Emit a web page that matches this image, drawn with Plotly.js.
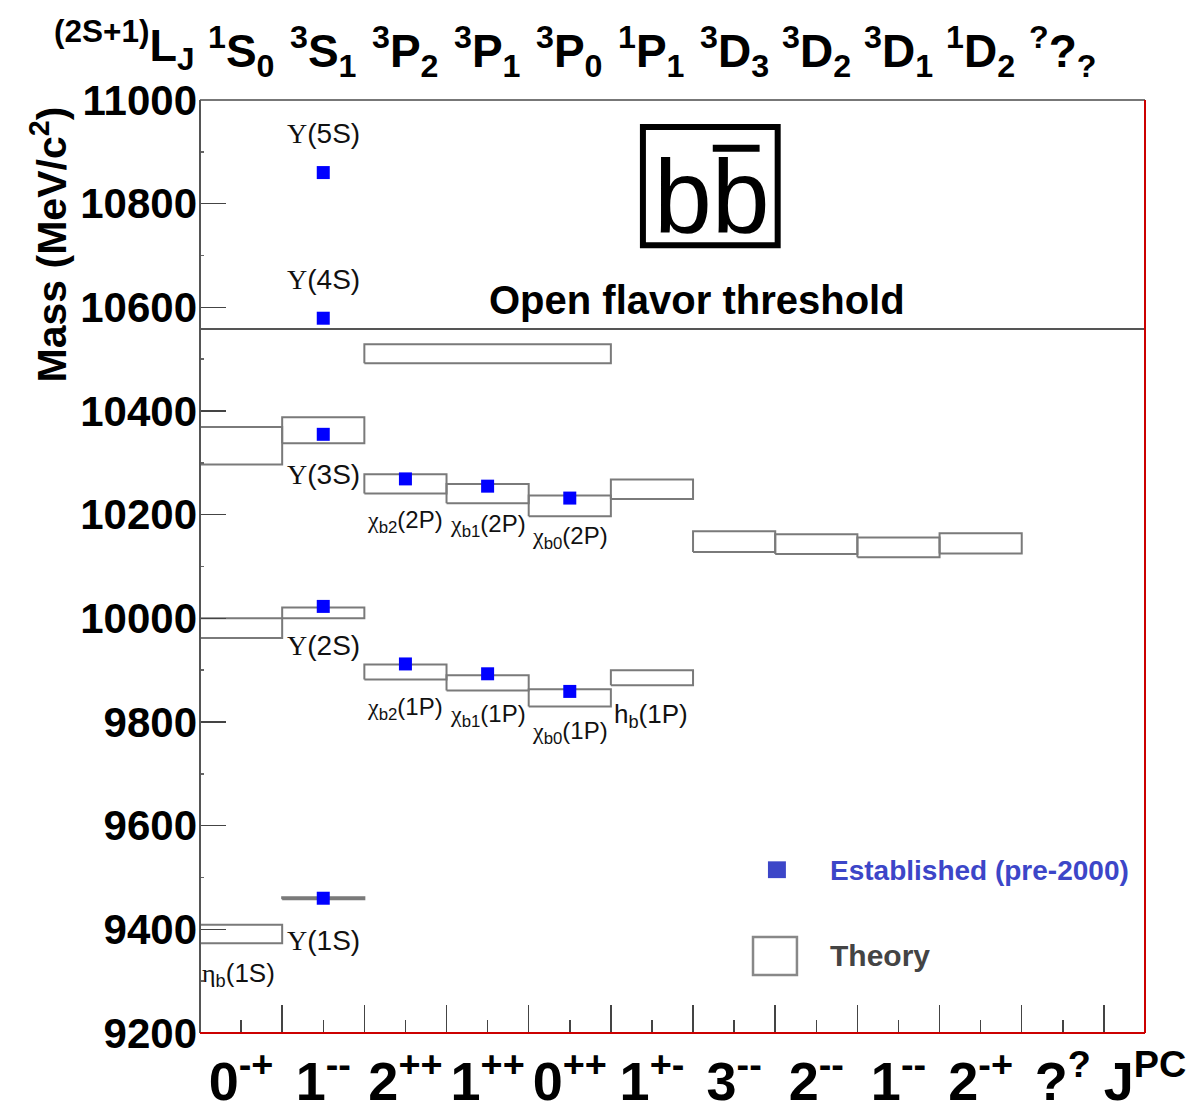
<!DOCTYPE html>
<html>
<head>
<meta charset="utf-8">
<script src="https://cdn.plot.ly/plotly-3.0.1.min.js"></script>
<style>body{margin:0;padding:0;background:#fff;}</style>
</head>
<body>
<div id="chart" style="width:1200px;height:1114px;"></div>
<script>
// ---------------- DATA ----------------
const jpcLabels = ['0<sup>-+</sup>','1<sup>--</sup>','2<sup>++</sup>','1<sup>++</sup>','0<sup>++</sup>','1<sup>+-</sup>','3<sup>--</sup>','2<sup>--</sup>','1<sup>--</sup>','2<sup>-+</sup>','?<sup>?</sup>','J<sup>PC</sup>'];
const ljLabels = ['<sup>1</sup>S<sub>0</sub>','<sup>3</sup>S<sub>1</sub>','<sup>3</sup>P<sub>2</sub>','<sup>3</sup>P<sub>1</sub>','<sup>3</sup>P<sub>0</sub>','<sup>1</sup>P<sub>1</sub>','<sup>3</sup>D<sub>3</sub>','<sup>3</sup>D<sub>2</sub>','<sup>3</sup>D<sub>1</sub>','<sup>1</sup>D<sub>2</sub>','<sup>?</sup>?<sub>?</sub>'];

// Theory predictions (column index, number of columns spanned, low mass, high mass) in MeV/c^2
const theoryColumn = [0, 0, 0, 1, 1, 1, 2, 2, 3, 4, 5, 2, 3, 4, 5, 6, 7, 8, 9];
const theorySpan   = [1, 1, 1, 1, 1, 1, 3, 1, 1, 1, 1, 1, 1, 1, 1, 1, 1, 1, 1];
const theoryLow    = [10297, 9962, 9373, 10338, 10000, 9458, 10492, 10241, 10222, 10197, 10230, 9882, 9861, 9830, 9871, 10128, 10124, 10118, 10125];
const theoryHigh   = [10369, 10000, 9409, 10388, 10021, 9462, 10529, 10278, 10259, 10237, 10268, 9911, 9890, 9863, 9900, 10168, 10162, 10156, 10164];

// Established states (pre-2000)
const establishedNames  = ['Υ(1S)','Υ(2S)','Υ(3S)','Υ(4S)','Υ(5S)','χb2(1P)','χb1(1P)','χb0(1P)','χb2(2P)','χb1(2P)','χb0(2P)'];
const establishedColumn = [1, 1, 1, 1, 1, 2, 3, 4, 2, 3, 4];
const establishedMass   = [9460, 10023, 10355, 10579, 10860, 9912, 9893, 9859, 10269, 10255, 10232];

const openFlavorThreshold = 10558;

// State labels
const serif = s => '<span style="font-family:Liberation Serif, DejaVu Serif, serif">' + s + '</span>';
const stateLabelText = [
  serif('Υ') + '(5S)', serif('Υ') + '(4S)', serif('Υ') + '(3S)', serif('Υ') + '(2S)', serif('Υ') + '(1S)',
  serif('η') + '<sub>b</sub>(1S)',
  serif('χ') + '<sub>b2</sub>(2P)', serif('χ') + '<sub>b1</sub>(2P)', serif('χ') + '<sub>b0</sub>(2P)',
  serif('χ') + '<sub>b2</sub>(1P)', serif('χ') + '<sub>b1</sub>(1P)', serif('χ') + '<sub>b0</sub>(1P)',
  'h<sub>b</sub>(1P)'
];
const stateLabelX = [1.5, 1.5, 1.5, 1.5, 1.5, 0.47, 2.5, 3.5, 4.5, 2.5, 3.5, 4.5, 5.49];
const stateLabelY = [10936, 10653, 10278, 9948, 9379, 9312, 10186, 10180, 10155, 9827, 9812, 9779, 9812];
const stateLabelSize = [28, 28, 28, 28, 28, 26, 24, 24, 24, 24, 24, 24, 26];

// ---------------- BUILD ----------------
const tx = [], ty = [];
for (let i = 0; i < theoryColumn.length; i++) {
  const x0 = theoryColumn[i], x1 = theoryColumn[i] + theorySpan[i];
  tx.push(x0, x1, x1, x0, x0, null);
  ty.push(theoryLow[i], theoryLow[i], theoryHigh[i], theoryHigh[i], theoryLow[i], null);
}

const theoryTrace = {
  type: 'scatter', mode: 'lines', name: 'Theory',
  x: tx, y: ty, line: {color: '#7a7a7a', width: 2}, hoverinfo: 'skip'
};
const estTrace = {
  type: 'scatter', mode: 'markers', name: 'Established (pre-2000)',
  x: establishedColumn.map(c => c + 0.5), y: establishedMass, text: establishedNames,
  marker: {symbol: 'square', size: 13, color: '#0000ff', line: {width: 0}},
  cliponaxis: false
};

const narrow = 'Liberation Sans Narrow, Arial Narrow, Liberation Sans, Arial, sans-serif';
const sans = 'Liberation Sans, Arial, Helvetica, sans-serif';

const annotations = [];
// top spectroscopic labels
for (let i = 0; i < ljLabels.length; i++) {
  annotations.push({xref: 'x', yref: 'paper', x: i + 0.5, y: 1.052, text: ljLabels[i],
    showarrow: false, xanchor: 'center', yanchor: 'middle',
    font: {family: narrow, size: 46, color: 'black', weight: 'bold'}});
}
annotations.push({xref: 'paper', yref: 'paper', x: -0.080, y: 1.059, text: '<sup>(2S+1)</sup>L<sub>J</sub>',
  showarrow: false, xanchor: 'center', yanchor: 'middle',
  font: {family: narrow, size: 45, color: 'black', weight: 'bold'}});
// y title
annotations.push({xref: 'paper', yref: 'paper', x: -0.160, y: 0.845, text: 'Mass (MeV/c<sup>2</sup>)',
  textangle: -90, showarrow: false, xanchor: 'center', yanchor: 'middle',
  font: {family: sans, size: 41, color: 'black', weight: 'bold'}});
// state labels
for (let i = 0; i < stateLabelText.length; i++) {
  annotations.push({xref: 'x', yref: 'y', x: stateLabelX[i], y: stateLabelY[i], text: stateLabelText[i],
    showarrow: false, xanchor: 'center', yanchor: 'middle',
    font: {family: sans, size: stateLabelSize[i], color: '#111'}});
}
// threshold label
annotations.push({xref: 'x', yref: 'y', x: 6.05, y: 10614, text: 'Open flavor threshold',
  showarrow: false, xanchor: 'center', yanchor: 'middle',
  font: {family: sans, size: 40, color: 'black', weight: 'bold'}});
// logo text
annotations.push({xref: 'x', yref: 'y', x: 6.23, y: 10815, text: 'bb',
  showarrow: false, xanchor: 'center', yanchor: 'middle',
  font: {family: narrow, size: 104, color: 'black'}});
// legend texts
annotations.push({xref: 'paper', yref: 'paper', x: 0.6646, y: 0.1747, text: 'Established (pre-2000)',
  showarrow: false, xanchor: 'left', yanchor: 'middle',
  font: {family: sans, size: 28, color: '#3c46c8', weight: 'bold'}});
annotations.push({xref: 'paper', yref: 'paper', x: 0.6646, y: 0.0836, text: 'Theory',
  showarrow: false, xanchor: 'left', yanchor: 'middle',
  font: {family: sans, size: 30, color: '#444444', weight: 'bold'}});

const shapes = [
  // threshold line
  {type: 'line', xref: 'paper', yref: 'y', x0: 0, x1: 1, y0: openFlavorThreshold, y1: openFlavorThreshold, line: {color: '#555', width: 2}},
  // logo frame and bar
  {type: 'rect', xref: 'x', yref: 'y', x0: 5.39, x1: 7.03, y0: 10720, y1: 10948, line: {color: 'black', width: 6}},
  {type: 'line', xref: 'x', yref: 'y', x0: 6.24, x1: 6.81, y0: 10907, y1: 10907, line: {color: 'black', width: 7}},
  // legend symbols
  {type: 'rect', xref: 'paper', yref: 'paper', x0: 0.601, x1: 0.620, y0: 0.166, y1: 0.184, fillcolor: '#3c46c8', line: {width: 0}},
  {type: 'rect', xref: 'paper', yref: 'paper', x0: 0.5852, x1: 0.6317, y0: 0.0622, y1: 0.1029, line: {color: '#888', width: 2.5}},
  // frame
  {type: 'line', xref: 'paper', yref: 'paper', x0: 0, x1: 1, y0: 1, y1: 1, line: {color: '#777', width: 2}},
  {type: 'line', xref: 'paper', yref: 'paper', x0: 0, x1: 0, y0: 0, y1: 1, line: {color: '#555', width: 2}},
  {type: 'line', xref: 'paper', yref: 'paper', x0: 1, x1: 1, y0: 0, y1: 1, line: {color: '#cc0000', width: 2}},
  {type: 'line', xref: 'paper', yref: 'paper', x0: 0, x1: 1, y0: 0, y1: 0, line: {color: '#cc0000', width: 2}}
];

const xCenters = jpcLabels.map((_, i) => i + 0.5);
const xBounds = [1,2,3,4,5,6,7,8,9,10,11];
const yTicks = [9200, 9400, 9600, 9800, 10000, 10200, 10400, 10600, 10800, 11000];

const layout = {
  width: 1200, height: 1114,
  margin: {l: 200, r: 55, t: 100, b: 81, pad: 0},
  paper_bgcolor: 'white', plot_bgcolor: 'white',
  showlegend: false,
  font: {family: sans},
  xaxis: {
    range: [0, 11.5], tickmode: 'array', tickvals: xCenters, ticktext: jpcLabels,
    ticks: 'inside', ticklen: 13, tickwidth: 1.5, tickcolor: '#444',
    showgrid: false, zeroline: false, showline: false,
    tickfont: {family: narrow, size: 54, color: 'black', weight: 'bold'},
    ticklabelstandoff: 12,
    minor: {tickmode: 'array', tickvals: xBounds, ticks: 'inside', ticklen: 28, tickwidth: 1.5, tickcolor: '#444', showgrid: false},
    fixedrange: true
  },
  yaxis: {
    range: [9200, 11000], tickmode: 'array', tickvals: yTicks, ticktext: yTicks.map(String),
    ticks: 'inside', ticklen: 26, tickwidth: 1.5, tickcolor: '#444',
    showgrid: false, zeroline: false, showline: false,
    tickfont: {family: sans, size: 42, color: 'black', weight: 'bold'},
    ticklabelstandoff: 2,
    minor: {dtick: 100, ticks: 'inside', ticklen: 4, tickcolor: '#666', showgrid: false},
    fixedrange: true
  },
  annotations: annotations,
  shapes: shapes
};

Plotly.newPlot('chart', [theoryTrace, estTrace], layout, {displayModeBar: false, staticPlot: true});
</script>
</body>
</html>
